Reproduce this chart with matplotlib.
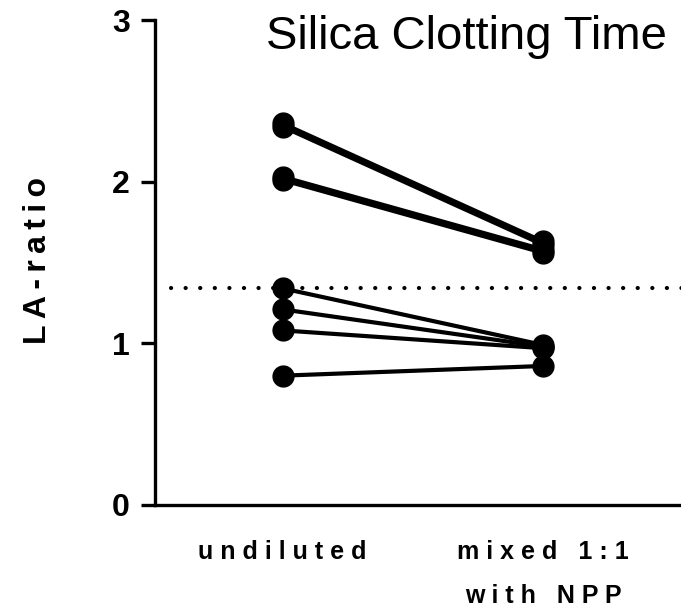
import matplotlib.pyplot as plt

plt.rcParams['font.family'] = ['Liberation Sans', 'DejaVu Sans']
plt.rcParams['lines.scale_dashes'] = False

# LA-ratio for each sample, before and after 1:1 mixing with NPP
groups = ['undiluted', 'mixed 1:1\nwith NPP']
undiluted = [2.36, 2.34, 2.03, 2.01, 1.34, 1.21, 1.08, 0.80]
mixed = [1.63, 1.61, 1.58, 1.56, 0.99, 0.98, 0.97, 0.86]
cutoff = 1.34


def spaced(s, sep):
    # GraphPad-like letter spacing
    return '\n'.join(sep.join(line) for line in s.split('\n'))


fig = plt.figure(figsize=(6.81, 6.07), dpi=100)
ax = fig.add_axes([155 / 681, 1 - 505 / 607, 1 - 155 / 681, (505 - 20) / 607])

for a, b in zip(undiluted, mixed):
    ax.plot([0, 1], [a, b], '-o', color='black', lw=3, markersize=15, solid_capstyle='round')

ax.plot([-0.43, 1.6], [cutoff, cutoff], color='black', lw=3, linestyle=(0, (0.1, 10.4)),
        dash_capstyle='round')

ax.set_xlim(-0.49, 1.53)
ax.set_ylim(0, 3)
ax.set_yticks([0, 1, 2, 3])
ax.set_yticklabels(['0', '1', '2', '3'], fontsize=23, fontweight='bold')
ax.set_xticks([0, 1])
ax.set_xticklabels([spaced(g, ' ') for g in groups], fontsize=18, fontweight='bold',
                   linespacing=2.05, va='top')
ax.tick_params(axis='x', length=0, pad=25)
ax.tick_params(axis='y', length=10, width=2.4, pad=8)
ax.set_ylabel(spaced('LA-ratio', '\u2009'), fontsize=23, fontweight='bold')
ax.yaxis.set_label_coords(-102 / 526, 0.505)

for side in ['top', 'right']:
    ax.spines[side].set_visible(False)
for side in ['left', 'bottom']:
    ax.spines[side].set_linewidth(2.4)

ax.text((466 - 155) / 526, (505 - 37) / 485, 'Silica Clotting Time', transform=ax.transAxes,
        fontsize=34, ha='center', va='center')

fig.savefig('out.png', dpi=100)
